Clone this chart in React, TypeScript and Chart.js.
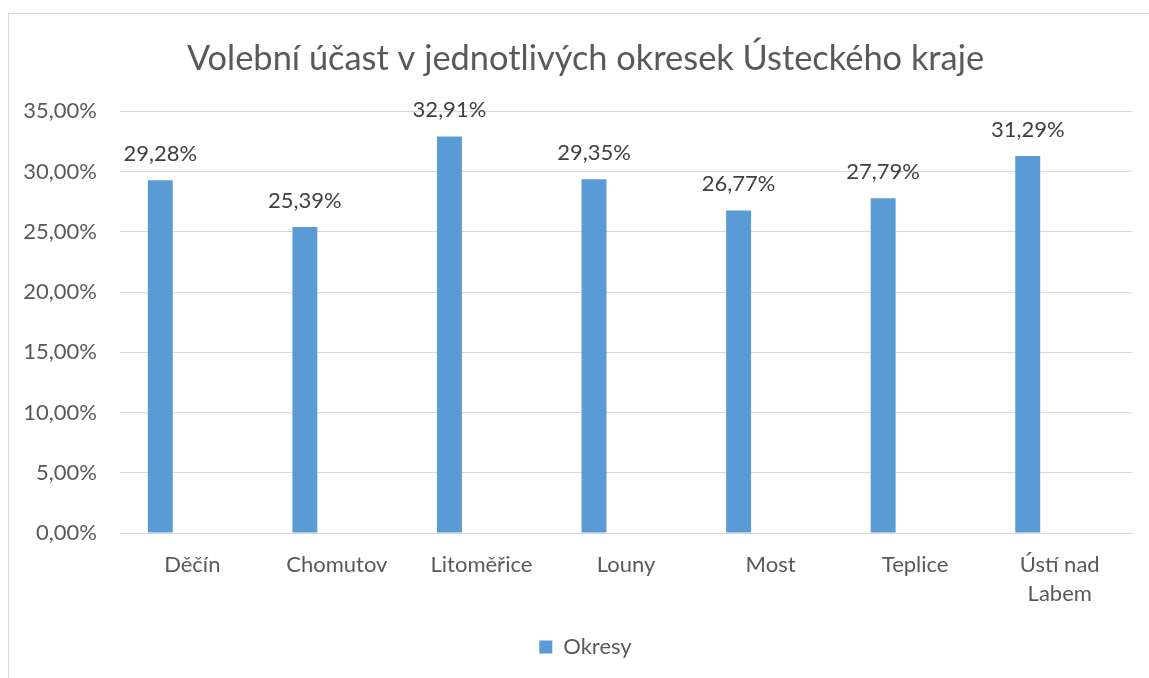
import React, { useEffect, useRef } from "react";
import { Chart, registerables } from "chart.js";

Chart.register(...registerables);

const categories: (string | string[])[] = ["Děčín", "Chomutov", "Litoměřice", "Louny", "Most", "Teplice", ["Ústí nad", "Labem"]];
const okresy: number[] = [29.28, 25.39, 32.91, 29.35, 26.77, 27.79, 31.29];
const emptySeries: (number | null)[] = [null, null, null, null, null, null, null];
const titleText = "Volební účast v jednotlivých okresek Ústeckého kraje";
const seriesName = "Okresy";

const FONT = "Lato, 'Open Sans', sans-serif";
const fmt = (v: number) => v.toFixed(2).replace(".", ",") + "%";

const dataLabels = {
  id: "dataLabels",
  afterDatasetsDraw(chart: any) {
    const ctx = chart.ctx;
    const meta = chart.getDatasetMeta(0);
    ctx.save();
    ctx.font = `22px ${FONT}`;
    ctx.fillStyle = "#404040";
    ctx.textAlign = "center";
    ctx.textBaseline = "alphabetic";
    meta.data.forEach((el: any, i: number) => {
      ctx.fillText(fmt(okresy[i]), el.x, el.y - 19);
    });
    ctx.restore();
  },
};

export default function App() {
  const ref = useRef<HTMLCanvasElement>(null);
  useEffect(() => {
    if (!ref.current) return;
    const chart = new Chart(ref.current, {
      type: "bar",
      data: {
        labels: categories,
        datasets: [
          {
            label: seriesName,
            data: okresy,
            backgroundColor: "#5B9BD5",
            categoryPercentage: 0.885,
            barPercentage: 0.39,
          },
          {
            label: "",
            data: emptySeries,
            backgroundColor: "#ED7D31",
            categoryPercentage: 0.885,
            barPercentage: 0.39,
          },
        ],
      },
      options: {
        responsive: false,
        animation: false,
        layout: { padding: { left: 0, right: 0, top: 24, bottom: 10 } },
        plugins: {
          title: {
            display: true,
            text: titleText,
            color: "#595959",
            font: { family: FONT, size: 34.4, weight: "normal" },
            padding: { top: 0, bottom: 32 },
          },
          legend: {
            position: "bottom",
            labels: {
              filter: (item: any) => item.datasetIndex === 0,
              boxWidth: 13,
              boxHeight: 13,
              color: "#595959",
              font: { family: FONT, size: 22 },
              padding: 10,
            },
          },
          tooltip: { enabled: false },
        },
        scales: {
          x: {
            grid: { display: false },
            border: { display: true, color: "#d9d9d9" },
            ticks: {
              color: "#595959",
              font: { family: FONT, size: 22, lineHeight: 1.3 },
              padding: 10,
              maxRotation: 0,
              autoSkip: false,
            },
            afterFit: (s: any) => {
              s.height = 93;
            },
          },
          y: {
            min: 0,
            max: 35,
            grid: { color: "#d9d9d9", drawTicks: false },
            border: { display: false },
            ticks: {
              stepSize: 5,
              color: "#595959",
              font: { family: FONT, size: 22 },
              padding: 23,
              callback: (v: any) => fmt(Number(v)),
            },
            afterFit: (s: any) => {
              s.width = 111;
            },
          },
          yRight: {
            type: "linear",
            position: "right",
            min: 0,
            max: 35,
            grid: { display: false, drawTicks: false },
            border: { display: false },
            ticks: { display: false },
            afterFit: (s: any) => {
              s.width = 30;
            },
          },
        },
      },
      plugins: [dataLabels],
    });
    return () => chart.destroy();
  }, []);

  return (
    <div style={{ position: "fixed", left: 0, top: 0, width: 1149, height: 678, overflow: "hidden", background: "#fff" }}>
      <div
        style={{
          position: "absolute",
          left: 8,
          top: 13,
          width: 1153,
          height: 700,
          border: "1px solid #d9d9d9",
        }}
      >
        <canvas ref={ref} width={1153} height={664} style={{ display: "block" }} />
      </div>
    </div>
  );
}
